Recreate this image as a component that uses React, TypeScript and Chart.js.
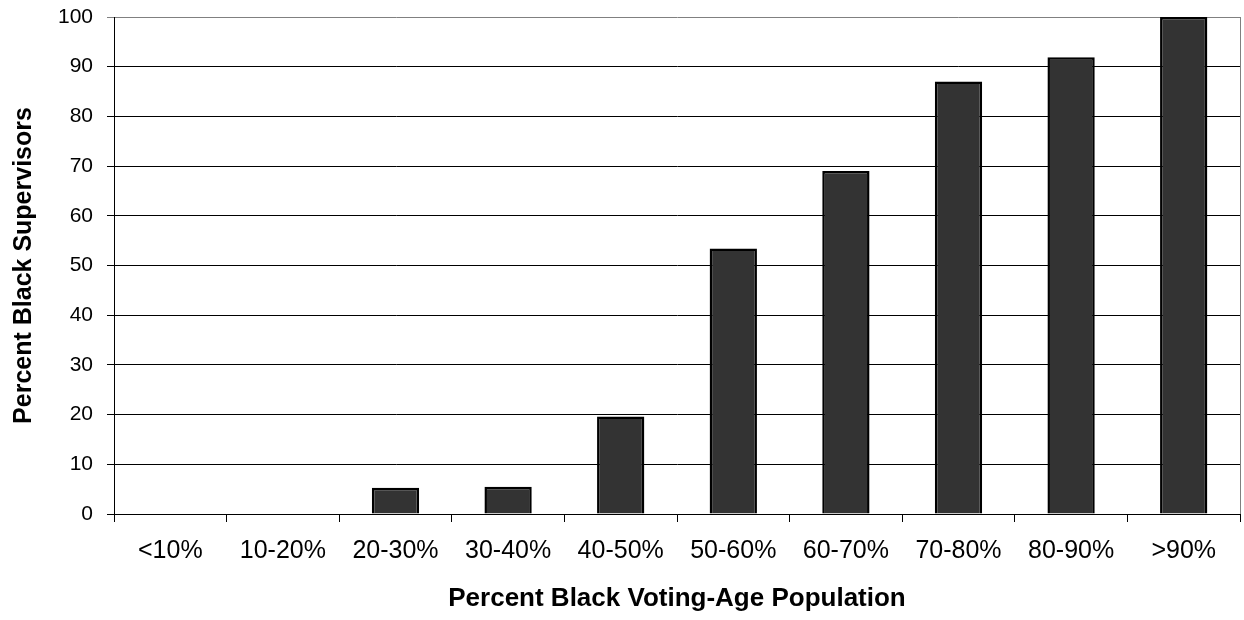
import React, { useEffect, useRef } from "react";
import { Chart, registerables } from "chart.js";

Chart.register(...registerables);

const categories = ["<10%", "10-20%", "20-30%", "30-40%", "40-50%", "50-60%", "60-70%", "70-80%", "80-90%", ">90%"];
const supervisorPercents = [0, 0, 5.3, 5.5, 19.6, 53.4, 69, 87, 91.9, 100];
const yMin = 0;
const yMax = 100;
const yStep = 10;

const FAMILY = "'Liberation Sans', Arial, Helvetica, sans-serif";

export default function App() {
  const ref = useRef<HTMLCanvasElement>(null);

  useEffect(() => {
    const chart = new Chart(ref.current as HTMLCanvasElement, {
      type: "bar",
      data: {
        labels: categories,
        datasets: [
          {
            data: supervisorPercents,
            backgroundColor: "#333333",
            borderColor: "#000000",
            borderWidth: 2.5,
            borderSkipped: "start",
            barPercentage: 0.42,
            categoryPercentage: 1,
          },
        ],
      },
      options: {
        responsive: false,
        animation: false,
        layout: { padding: { left: 0, top: 17, right: 4, bottom: 0 } },
        plugins: { legend: { display: false }, tooltip: { enabled: false } },
        scales: {
          x: {
            offset: true,
            grid: {
              display: true,
              offset: true,
              drawOnChartArea: true,
              color: (ctx: any) =>
                ctx.index === undefined || ctx.index >= categories.length ? "#808080" : "rgba(0,0,0,0)",
              tickColor: "#000000",
              tickLength: 8,
              lineWidth: 1,
            },
            border: { display: true, color: "#000000", width: 1 },
            ticks: {
              color: "#000000",
              font: { family: FAMILY, size: 25 },
              padding: 14,
              maxRotation: 0,
              autoSkip: false,
            },
            title: {
              display: true,
              text: "Percent Black Voting-Age Population",
              color: "#000000",
              font: { family: FAMILY, size: 26, weight: "bold" },
              padding: { top: 0, bottom: 6 },
            },
            afterFit: (s: any) => {
              s.height = 106;
              s.paddingLeft = 0;
              s.paddingRight = 0;
            },
          },
          y: {
            min: yMin,
            max: yMax,
            ticks: {
              stepSize: yStep,
              color: "#000000",
              font: { family: FAMILY, size: 21 },
              padding: 14,
            },
            grid: {
              color: (ctx: any) => (ctx.tick && ctx.tick.value === yMax ? "#808080" : "#000000"),
              tickLength: 7,
              lineWidth: 1,
            },
            border: { display: true, color: "#000000", width: 1 },
            title: {
              display: true,
              text: "Percent Black Supervisors",
              color: "#000000",
              font: { family: FAMILY, size: 25, weight: "bold" },
              padding: { top: 9, bottom: 0 },
            },
            afterFit: (s: any) => {
              s.width = 114;
              s.paddingTop = 0;
              s.paddingBottom = 0;
            },
          },
        },
      } as any,
    });
    return () => chart.destroy();
  }, []);

  return (
    <div style={{ position: "fixed", left: 0, top: 0, width: 1244, height: 620, background: "#ffffff" }}>
      <canvas ref={ref} width={1244} height={620} style={{ display: "block" }} />
    </div>
  );
}
